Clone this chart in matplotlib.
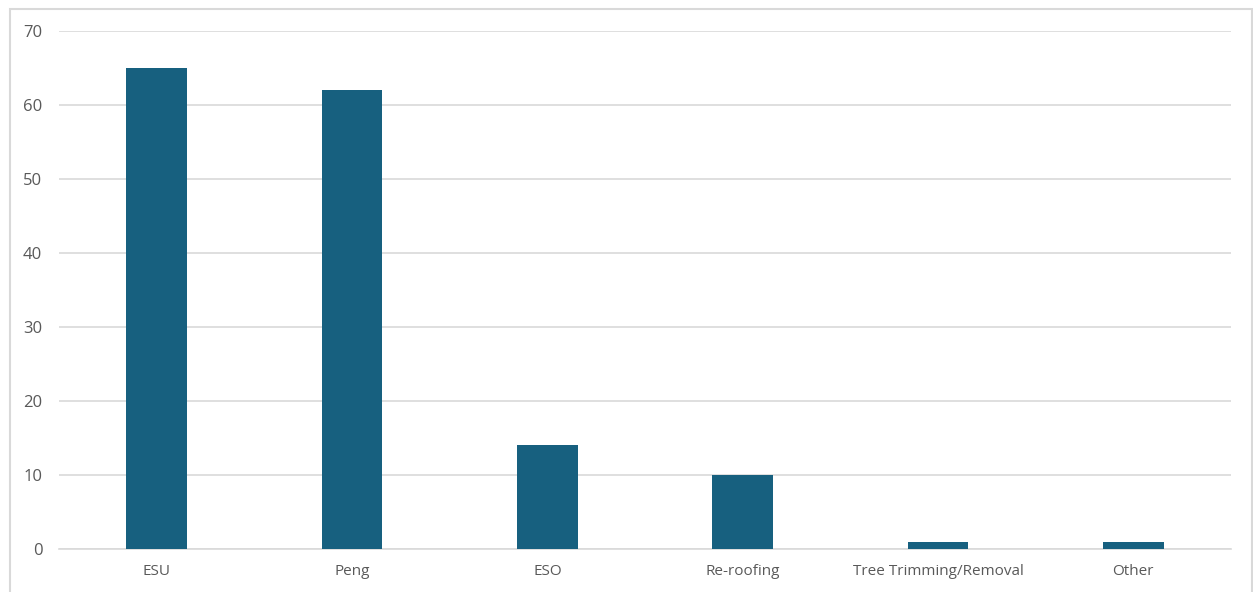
import matplotlib
matplotlib.use("Agg")
import matplotlib.pyplot as plt
from matplotlib.patches import Rectangle

categories = ["ESU", "Peng", "ESO", "Re-roofing", "Tree Trimming/Removal", "Other"]
counts = [65, 62, 14, 10, 1, 1]
yticks = [0, 10, 20, 30, 40, 50, 60, 70]

bar_color = "#17607F"
text_color = "#595959"
grid_color = "#D9D9D9"

plt.rcParams["font.family"] = ["Open Sans", "DejaVu Sans"]

fig = plt.figure(figsize=(12.53, 5.92), dpi=100)
ax = fig.add_axes([59 / 1253, 1 - 549 / 592, (1231 - 59) / 1253, (549 - 31) / 592])

x = range(len(categories))
ax.bar(x, counts, width=0.31, color=bar_color, zorder=3)

ax.set_xlim(-0.5, len(categories) - 0.5)
ax.set_ylim(0, 70)
ax.set_yticks(yticks)
ax.set_xticks(list(x))
ax.set_xticklabels(categories)
ax.yaxis.grid(True, color=grid_color, linewidth=1.2, zorder=0)
ax.tick_params(axis="x", length=0, colors=text_color, labelsize=11, pad=11)
ax.tick_params(axis="y", length=0, colors=text_color, labelsize=12, pad=12)
for lbl in ax.get_yticklabels():
    lbl.set_horizontalalignment("right")

for side in ["top", "right", "left"]:
    ax.spines[side].set_visible(False)
ax.spines["bottom"].set_color(grid_color)
ax.spines["bottom"].set_linewidth(1.2)

# light frame around the chart area
fig.patches.append(Rectangle((10 / 1253, -0.05), 1242 / 1253, 1 - 9 / 592 + 0.05,
                             transform=fig.transFigure, fill=False,
                             edgecolor="#D9D9D9", linewidth=1.5))

fig.savefig("out.png", dpi=100)
